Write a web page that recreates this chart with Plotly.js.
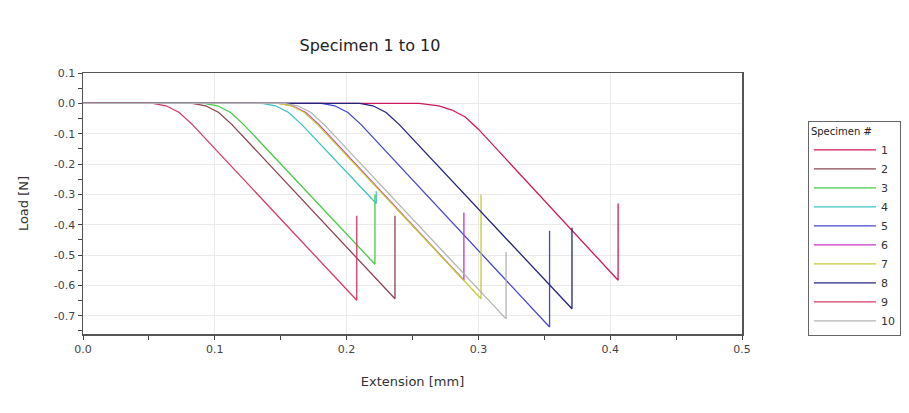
<!DOCTYPE html>
<html>
<head>
<meta charset="utf-8">
<script src="https://cdn.plot.ly/plotly-3.0.1.min.js"></script>
<style>html,body{margin:0;padding:0;background:#fff;}#chart{width:909px;height:413px;}</style>
</head>
<body>
<div id="chart"></div>
<script>
// Specimen names
const specimens = ['1','2','3','4','5','6','7','8','9','10'];
// Extension [mm] and Load [N], per specimen
const x1 = [0, 0.255, 0.27, 0.28, 0.29, 0.30, 0.406, 0.406];
const y1 = [0, 0, -0.008, -0.022, -0.045, -0.085, -0.583, -0.33];
const x2 = [0, 0.083, 0.093, 0.103, 0.113, 0.2367, 0.2367];
const y2 = [0, 0, -0.008, -0.03, -0.07, -0.644, -0.37];
const x3 = [0, 0.092, 0.102, 0.112, 0.122, 0.2215, 0.2215];
const y3 = [0, 0, -0.008, -0.03, -0.07, -0.53, -0.30];
const x4 = [0, 0.136, 0.146, 0.156, 0.166, 0.2225, 0.2225];
const y4 = [0, 0, -0.008, -0.03, -0.07, -0.33, -0.29];
const x5 = [0, 0.181, 0.191, 0.201, 0.211, 0.354, 0.354];
const y5 = [0, 0, -0.008, -0.03, -0.07, -0.737, -0.42];
const x6 = [0, 0.149, 0.159, 0.169, 0.179, 0.289, 0.289];
const y6 = [0, 0, -0.008, -0.03, -0.07, -0.583, -0.36];
const x7 = [0, 0.148, 0.158, 0.168, 0.178, 0.302, 0.302];
const y7 = [0, 0, -0.008, -0.03, -0.07, -0.644, -0.30];
const x8 = [0, 0.210, 0.220, 0.230, 0.240, 0.371, 0.371];
const y8 = [0, 0, -0.008, -0.03, -0.07, -0.677, -0.41];
const x9 = [0, 0.053, 0.063, 0.073, 0.083, 0.2077, 0.2077];
const y9 = [0, 0, -0.008, -0.03, -0.07, -0.649, -0.37];
const x10 = [0, 0.153, 0.163, 0.173, 0.183, 0.321, 0.321];
const y10 = [0, 0, -0.008, -0.03, -0.07, -0.71, -0.49];
const xTickVals = [0, 0.1, 0.2, 0.3, 0.4, 0.5];
const xTickText = ['0.0','0.1','0.2','0.3','0.4','0.5'];
const yTickVals = [0.1, 0, -0.1, -0.2, -0.3, -0.4, -0.5, -0.6, -0.7];
const yTickText = ['0.1','0.0','-0.1','-0.2','-0.3','-0.4','-0.5','-0.6','-0.7'];

const xs = [x1,x2,x3,x4,x5,x6,x7,x8,x9,x10];
const ys = [y1,y2,y3,y4,y5,y6,y7,y8,y9,y10];
const colors = ['#d0185c','#8e4452','#44cc44','#3cc4c4','#4646d2','#c836c8','#c4cc34','#24247e','#d83a64','#b4b4b4'];

const traces = specimens.map((s,i)=>({
  x: xs[i], y: ys[i], name: s, type:'scatter', mode:'lines',
  line:{color:colors[i], width:1.3}
}));

const font = 'DejaVu Sans, Verdana, sans-serif';
const layout = {
  width: 909, height: 413,
  margin:{l:83, r:167, t:73, b:79, autoexpand:false},
  paper_bgcolor:'#fff', plot_bgcolor:'#fff',
  font:{family:font, size:11, color:'#333'},
  title:{text:'Specimen 1 to 10', font:{family:font, size:16, color:'#222'}, x:0.407, xref:'container', xanchor:'center', y:0.89, yref:'container', yanchor:'middle'},
  xaxis:{range:[0,0.5], tickvals:xTickVals, ticktext:xTickText, showgrid:true, gridcolor:'#ebebeb',
    ticks:'outside', ticklen:4, tickcolor:'#444', showline:true, linecolor:'#555', linewidth:1.5, mirror:true,
    minor:{dtick:0.05, ticks:'outside', ticklen:4, tickcolor:'#444', showgrid:false},
    zeroline:false, tickfont:{size:11, color:'#444'},
    title:{text:'Extension [mm]', font:{size:13, color:'#333'}, standoff:22}},
  yaxis:{range:[-0.76,0.1], tickvals:yTickVals, ticktext:yTickText, showgrid:true, gridcolor:'#ebebeb',
    ticks:'outside', ticklen:4, tickcolor:'#444', showline:true, linecolor:'#555', linewidth:1.5, mirror:true,
    minor:{dtick:0.05, ticks:'outside', ticklen:4, tickcolor:'#444', showgrid:false},
    zeroline:false, tickfont:{size:11, color:'#444'},
    title:{text:'Load [N]', font:{size:13, color:'#333'}, standoff:22}},
  legend:{x:1.1, xanchor:'left', y:0.815, yanchor:'top', bordercolor:'#666', borderwidth:1, bgcolor:'#fff',
    font:{size:11, color:'#333'}, title:{text:'Specimen #', font:{size:10, color:'#222'}}, tracegroupgap:0, itemwidth:62},
  showlegend:true
};
Plotly.newPlot('chart', traces, layout, {displayModeBar:false, staticPlot:true});
</script>
</body>
</html>
